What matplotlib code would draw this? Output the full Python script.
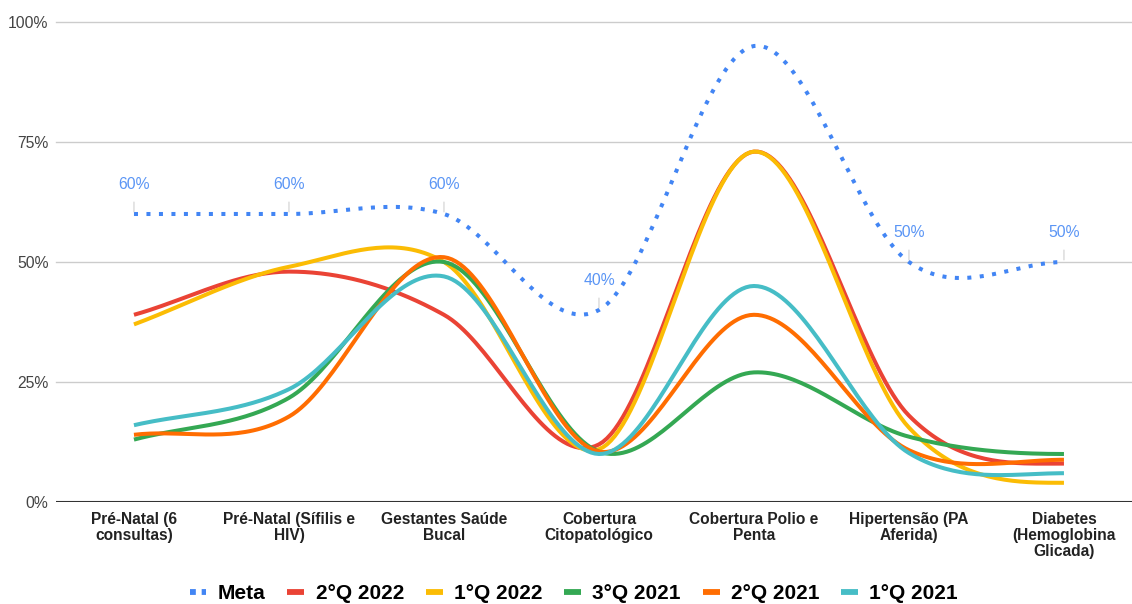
import numpy as np
import matplotlib
matplotlib.use('Agg')
import matplotlib.pyplot as plt
from matplotlib.lines import Line2D

plt.rcParams['font.family'] = ['Liberation Sans', 'DejaVu Sans']

categorias = ['Pré-Natal (6\nconsultas)', 'Pré-Natal (Sífilis e\nHIV)', 'Gestantes Saúde\nBucal',
              'Cobertura\nCitopatológico', 'Cobertura Polio e\nPenta', 'Hipertensão (PA\nAferida)',
              'Diabetes\n(Hemoglobina\nGlicada)']

meta       = [60, 60, 60, 40, 95, 50, 50]
q2_2022    = [39, 48, 39, 12, 73, 18, 8]
q1_2022    = [37, 49, 50, 11, 73, 15.5, 4]
q3_2021    = [13, 21.7, 50, 10.5, 27, 13.6, 10]
q2_2021    = [14, 17.8, 51, 10.5, 39, 10.8, 8.8]
q1_2021    = [16, 23.5, 47, 10, 45, 10.2, 6]

series = [('2°Q 2022', q2_2022, '#EA4335'),
          ('1°Q 2022', q1_2022, '#FBBC04'),
          ('3°Q 2021', q3_2021, '#34A853'),
          ('2°Q 2021', q2_2021, '#FF6D01'),
          ('1°Q 2021', q1_2021, '#46BDC6')]
cor_meta = '#4285F4'


def suave(y, n=40):
    # curva tipo catmull-rom passando pelos pontos
    y = np.asarray(y, dtype=float)
    m = np.zeros_like(y)
    m[1:-1] = (y[2:] - y[:-2]) / 2
    m[0] = y[1] - y[0]
    m[-1] = 0
    xs, ys = [], []
    t = np.linspace(0, 1, n)
    h00 = 2*t**3 - 3*t**2 + 1
    h10 = t**3 - 2*t**2 + t
    h01 = -2*t**3 + 3*t**2
    h11 = t**3 - t**2
    for i in range(len(y) - 1):
        xs.append(i + t)
        ys.append(h00*y[i] + h10*m[i] + h01*y[i+1] + h11*m[i+1])
    return np.concatenate(xs), np.concatenate(ys)


fig = plt.figure(figsize=(11.32, 6.04), dpi=100)
ax = fig.add_axes([56/1132, 102/604, 1 - 56/1132, 480/604])

for v in [25, 50, 75, 100]:
    ax.axhline(v, color='#cccccc', lw=1, zorder=0, clip_on=False)
ax.axhline(0, color='#333333', lw=1.5, zorder=1)

xm, ym = suave(meta)
ax.plot(xm, ym, color=cor_meta, lw=2.9, linestyle=(0, (1, 2.1)), dash_capstyle='butt', zorder=2)

for nome, vals, cor in series:
    xs, ys = suave(vals)
    ax.plot(xs, ys, color=cor, lw=2.9, solid_capstyle='butt', zorder=3)

for i, v in enumerate(meta):
    if i == 4:
        continue
    ax.annotate('%d%%' % v, xy=(i, v), xytext=(0, 21), textcoords='offset points',
                ha='center', va='center', fontsize=11.3, color='#5a95f5',
                arrowprops=dict(arrowstyle='-', color='#d0d0d0', lw=0.8, shrinkA=5, shrinkB=1.5),
                zorder=4)

ax.set_xlim(-0.503, 6.439)
ax.set_ylim(0, 100)
ax.set_yticks([0, 25, 50, 75, 100])
ax.set_yticklabels(['0%', '25%', '50%', '75%', '100%'], fontsize=11.3, color='#444444')
ax.set_xticks(range(len(categorias)))
ax.set_xticklabels(categorias, fontsize=11.2, fontweight='bold', color='#222222', linespacing=1.1)
ax.tick_params(axis='both', length=0)
ax.tick_params(axis='y', pad=5.5)
ax.tick_params(axis='x', pad=7)
for s in ax.spines.values():
    s.set_visible(False)

handles = [Line2D([], [], color=cor_meta, lw=4.2, linestyle=(0, (1, 1)), dash_capstyle='butt')]
labels = ['Meta']
for nome, vals, cor in series:
    handles.append(Line2D([], [], color=cor, lw=4.2, solid_capstyle='butt'))
    labels.append(nome)
fig.legend(handles, labels, loc='center', bbox_to_anchor=(0.507, 0.017), ncol=6, frameon=False,
           prop={'weight': 'bold', 'size': 15}, handlelength=0.8, handletextpad=0.55,
           columnspacing=1.05)

fig.savefig('out.png', dpi=100)
